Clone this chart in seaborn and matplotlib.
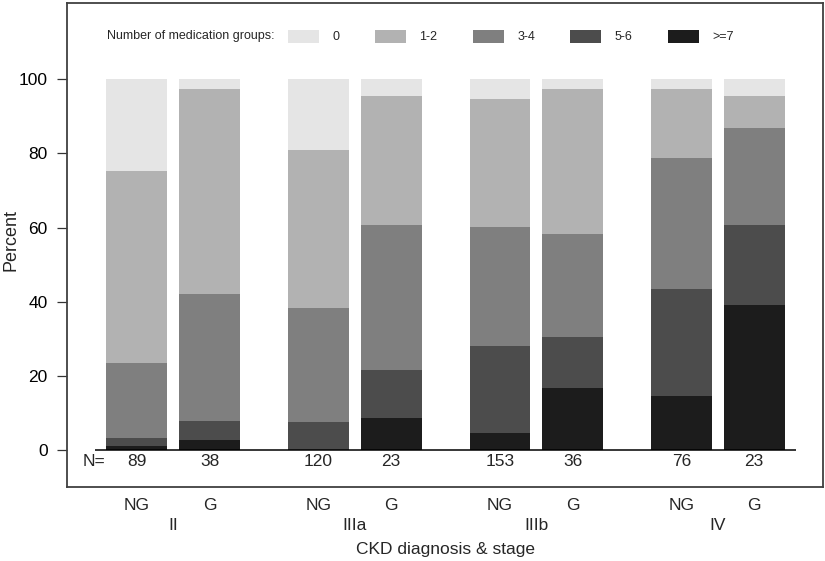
import matplotlib
matplotlib.use("Agg")
import matplotlib.pyplot as plt
import seaborn as sns
import numpy as np
import pandas as pd
from matplotlib.patches import Patch
from matplotlib.transforms import blended_transform_factory

# ---------------- data ----------------
stages = ["II", "IIIa", "IIIb", "IV"]
bar_groups = ["NG", "G", "NG", "G", "NG", "G", "NG", "G"]
n_labels = [89, 38, 120, 23, 153, 36, 76, 23]

categories = ["0", "1-2", "3-4", "5-6", ">=7"]
pct_0 = [24.8, 2.6, 19.2, 4.4, 5.3, 2.7, 2.7, 4.4]
pct_1_2 = [51.7, 55.3, 42.5, 34.8, 34.6, 38.9, 18.4, 8.7]
pct_3_4 = [20.2, 34.2, 30.8, 39.1, 32.0, 27.8, 35.5, 26.1]
pct_5_6 = [2.2, 5.3, 7.5, 13.0, 23.5, 13.9, 28.9, 21.7]
pct_7plus = [1.1, 2.6, 0.0, 8.7, 4.6, 16.7, 14.5, 39.1]

colors = ["#e5e5e5", "#b2b2b2", "#7f7f7f", "#4c4c4c", "#1c1c1c"]

# layout
positions = [0, 1, 2.5, 3.5, 5, 6, 7.5, 8.5]
bar_width = 0.84

sns.set_style("white")
plt.rcParams["font.family"] = ["Liberation Sans", "DejaVu Sans"]

W, H = 825, 561
fig = plt.figure(figsize=(W / 100, H / 100), dpi=100)
ax = fig.add_axes([67 / W, (H - 487) / H, (823 - 67) / W, (487 - 3) / H])

layers = [pct_7plus, pct_5_6, pct_3_4, pct_1_2, pct_0]  # bottom -> top
layer_colors = colors[::-1]
cum = np.cumsum(np.array(layers, dtype=float), axis=0)

for i in range(len(layers) - 1, -1, -1):
    df = pd.DataFrame({"pos": positions, "val": cum[i]})
    sns.barplot(data=df, x="pos", y="val", native_scale=True,
                color=layer_colors[i], saturation=1, width=bar_width,
                errorbar=None, linewidth=0, ax=ax)

ax.set_xlim(-0.964, 9.449)
ax.set_ylim(-10, 120.6)

# baseline
x0 = positions[0] - bar_width / 2 - 0.16
x1 = positions[-1] + bar_width / 2 + 0.16
ax.plot([x0, x1], [0, 0], color="black", lw=1.1, zorder=5, solid_capstyle="butt")

# frame
for s in ax.spines.values():
    s.set_visible(True)
    s.set_color("#404040")
    s.set_linewidth(1.3)

fs = 12.5
ax.set_yticks([0, 20, 40, 60, 80, 100])
ax.tick_params(axis="y", left=True, length=7, width=0.9, color="#333333",
               pad=7, labelsize=fs, labelcolor="black")
ax.set_xticks(positions)
ax.set_xticklabels(bar_groups)
ax.tick_params(axis="x", bottom=True, length=0, pad=8, labelsize=fs)

ax.set_ylabel("Percent", fontsize=13)
ax.yaxis.set_label_coords(-0.063, 0.51)
ax.set_xlabel("CKD diagnosis & stage", fontsize=fs, labelpad=21)

# N= labels
ax.text(positions[0] - 0.59, -3.2, "N=", ha="center", va="center", fontsize=fs)
for p, n in zip(positions, n_labels):
    ax.text(p, -3.2, str(n), ha="center", va="center", fontsize=fs)

# stage labels
trans = blended_transform_factory(ax.transData, ax.transAxes)
for k, st in enumerate(stages):
    c = (positions[2 * k] + positions[2 * k + 1]) / 2
    ax.annotate(st, xy=(c, 0), xycoords=trans, xytext=(0, -39),
                textcoords="offset pixels", ha="center", va="center", fontsize=fs)

# legend
ax.text((107 - 67) / 756, (487 - 36.5) / 484, "Number of medication groups:",
        transform=ax.transAxes, ha="left", va="center", fontsize=9)
handles = [Patch(facecolor=c, edgecolor="none", label=l) for c, l in zip(colors, categories)]
ax.legend(handles=handles, ncol=5, loc="center left",
          bbox_to_anchor=((288 - 67) / 756, (487 - 36.5) / 484),
          frameon=False, fontsize=9, borderpad=0, borderaxespad=0,
          handlelength=2.48, handleheight=1.22, handletextpad=1.1,
          columnspacing=2.8)

fig.savefig("out.png", dpi=100)
